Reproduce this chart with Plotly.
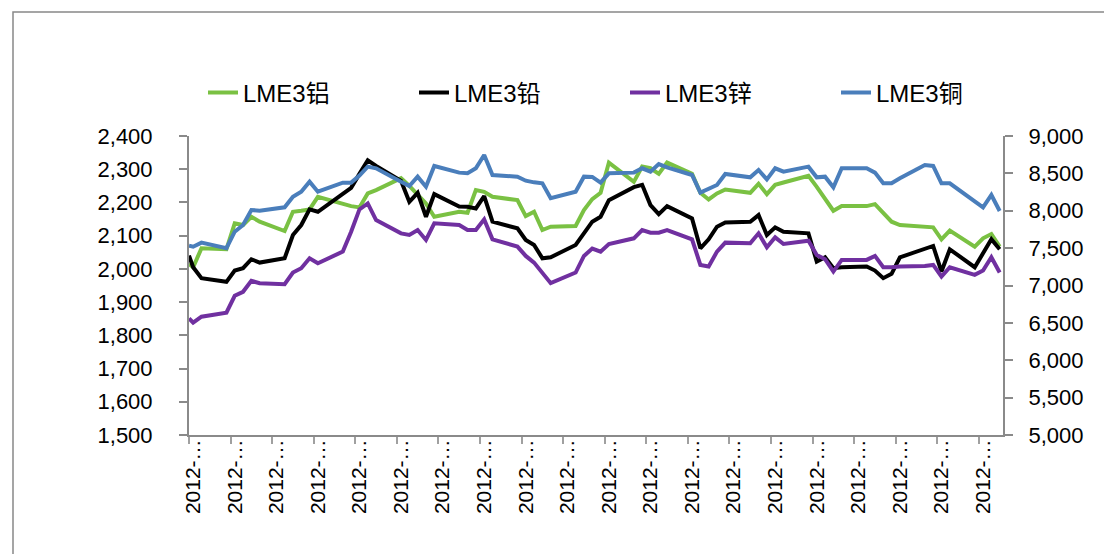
import plotly.graph_objects as go

# trading-day positions (calendar-day offsets)
days = [-0.5, 0, 1, 4, 5, 6, 7, 8, 11, 12, 13, 14, 15, 18, 19, 20, 21, 22,
        25, 26, 27, 28, 29, 32, 33, 34, 35, 36, 39, 40, 41, 42, 43,
        46, 47, 48, 49, 50, 53, 54, 55, 56, 57, 60, 61, 62, 63, 64,
        67, 68, 69, 70, 71, 74, 75, 76, 77, 78, 81, 82, 83, 84, 85,
        88, 89, 90, 91, 94, 95, 96, 97]

aluminium = [2015, 2005, 2062, 2059, 2137, 2132, 2157, 2142, 2114, 2172, 2175, 2179, 2217,
             2195, 2189, 2185, 2227, 2237, 2273, 2250, 2222, 2197, 2157,
             2172, 2169, 2237, 2232, 2217, 2207, 2159, 2172, 2117, 2127,
             2129, 2177, 2210, 2229, 2320, 2262, 2308, 2303, 2286, 2320,
             2286, 2229, 2209, 2227, 2239, 2229, 2256, 2225, 2253, 2260,
             2280, 2247, 2212, 2175, 2189, 2189, 2195, 2167, 2142, 2132,
             2129, 2125, 2089, 2115, 2067, 2092, 2105, 2067]

lead = [2040, 2005, 1972, 1961, 1995, 2002, 2029, 2019, 2032, 2102, 2132, 2179, 2172,
        2226, 2244, 2286, 2327, 2310, 2265, 2202, 2229, 2157, 2225,
        2188, 2187, 2182, 2219, 2142, 2122, 2087, 2072, 2032, 2035,
        2072, 2107, 2142, 2157, 2207, 2246, 2253, 2192, 2165, 2189,
        2152, 2062, 2089, 2127, 2140, 2142, 2162, 2102, 2125, 2112,
        2107, 2022, 2035, 2002, 2005, 2007, 1995, 1972, 1985, 2035,
        2062, 2069, 1992, 2059, 2005, 2047, 2089, 2059]

zinc = [1851, 1838, 1856, 1868, 1919, 1931, 1964, 1957, 1954, 1989, 2002, 2032, 2017,
        2052, 2112, 2179, 2197, 2147, 2107, 2102, 2117, 2087, 2137,
        2132, 2117, 2117, 2149, 2089, 2067, 2039, 2019, 1987, 1957,
        1989, 2039, 2061, 2052, 2075, 2092, 2117, 2109, 2109, 2117,
        2089, 2012, 2007, 2052, 2079, 2077, 2107, 2065, 2095, 2075,
        2085, 2042, 2029, 1992, 2027, 2027, 2039, 2005, 2005, 2007,
        2009, 2012, 1977, 2005, 1982, 1995, 2035, 1989]

copper = [7532, 7519, 7573, 7498, 7720, 7809, 8010, 8001, 8046, 8188, 8255, 8389, 8255,
          8376, 8376, 8470, 8590, 8568, 8389, 8331, 8456, 8322, 8599,
          8510, 8501, 8568, 8746, 8478, 8456, 8402, 8380, 8367, 8167,
          8255, 8456, 8452, 8376, 8501, 8510, 8568, 8523, 8625, 8581,
          8478, 8242, 8287, 8345, 8492, 8447, 8545, 8420, 8568, 8523,
          8590, 8447, 8456, 8314, 8568, 8568, 8510, 8367, 8367, 8434,
          8612, 8599, 8367, 8367, 8126, 8046, 8211, 7997]

series_names = ["LME3铝", "LME3铅", "LME3锌", "LME3铜"]
colors = ["#7AC143", "#000000", "#7030A0", "#4A7EBB"]

tick_days = list(range(0, 96, 5))
tick_text = ["2012-…"] * len(tick_days)

FONT = "Liberation Sans, Noto Sans CJK SC, sans-serif"
AXIS_C = "#8a8a8a"

fig = go.Figure()
for name, vals, col in zip(series_names[:3], [aluminium, lead, zinc], colors[:3]):
    fig.add_trace(go.Scatter(x=days, y=vals, name=name, mode="lines",
                             line=dict(color=col, width=4)))
fig.add_trace(go.Scatter(x=days, y=copper, name=series_names[3], mode="lines",
                         line=dict(color=colors[3], width=4), yaxis="y2"))

# page body has an 8px offset, so positions below are in figure pixels
L, R, T, B = 181, 117, 128, 127
W, H = 1112, 554
pw, ph = W - L - R, H - T - B

def px_x(px):
    return (px - L) / pw

def px_y(py):
    return (H - B - py) / ph

fig.update_layout(
    width=W, height=H,
    margin=dict(l=L, r=R, t=T, b=B, autoexpand=False),
    paper_bgcolor="white", plot_bgcolor="white",
    font=dict(family=FONT, size=22, color="#000000"),
    showlegend=True,
    legend=dict(orientation="h", x=px_x(179), y=px_y(85), xanchor="left", yanchor="middle",
                entrywidth=166, entrywidthmode="pixels", itemwidth=30,
                borderwidth=16, bordercolor="rgba(0,0,0,0)",
                font=dict(family=FONT, size=24), bgcolor="rgba(0,0,0,0)"),
    xaxis=dict(range=[-0.5, 97.4], tickmode="array", tickvals=tick_days, ticktext=tick_text,
               tickangle=-90, ticks="", showgrid=False, zeroline=False,
               showline=True, linecolor=AXIS_C, linewidth=2, automargin=False,
               tickfont=dict(family=FONT, size=21), ticklabelstandoff=-6,
               minor=dict(tick0=-0.5, dtick=5, ticks="outside", ticklen=7,
                          tickcolor="#a0a0a0", tickwidth=1.5, showgrid=False)),
    yaxis=dict(range=[1500, 2400], dtick=100, tickformat=",", showgrid=False, zeroline=False,
               showline=True, linecolor=AXIS_C, linewidth=2, ticks="outside", automargin=False,
               ticklen=8, tickcolor=AXIS_C, tickwidth=1.5, ticklabelstandoff=22),
    yaxis2=dict(range=[5000, 9000], dtick=500, tickformat=",", overlaying="y", side="right",
                showgrid=False, zeroline=False, showline=True, linecolor=AXIS_C, linewidth=2,
                ticks="outside", ticklen=8, tickcolor=AXIS_C, tickwidth=1.5, automargin=False,
                ticklabelstandoff=11),
    shapes=[dict(type="rect", xref="paper", yref="paper",
                 x0=px_x(5), x1=px_x(1101), y0=px_y(600), y1=px_y(4),
                 line=dict(color="#888888", width=1.5), fillcolor="rgba(0,0,0,0)", layer="below")],
)

fig.write_html("out.html")
